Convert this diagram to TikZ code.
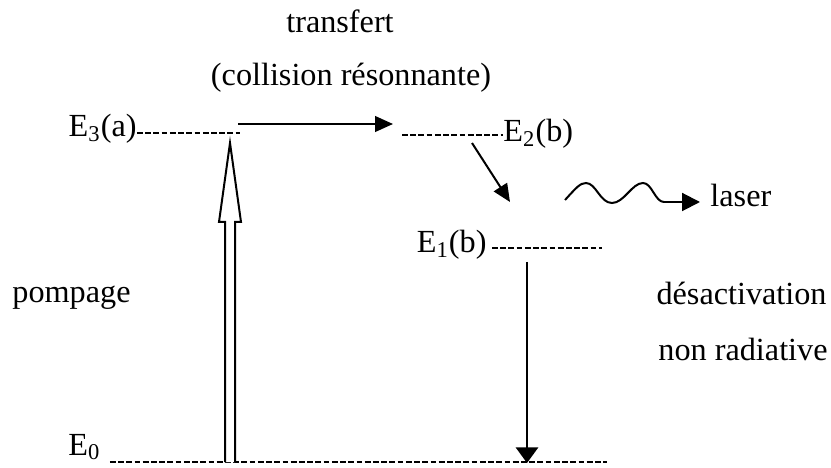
\documentclass[tikz,border=0pt]{standalone}
\usepackage{fontspec}
\setmainfont{Liberation Serif}
\usetikzlibrary{arrows.meta}
\begin{document}
\begin{tikzpicture}[x=0.45pt,y=-0.45pt,
  lbl/.style={inner sep=0pt,font=\fontsize{14.5}{17}\selectfont},
  level/.style={line width=1pt,dash pattern=on 2.6pt off 1.1pt},
  arr/.style={line width=0.9pt,-{Triangle[length=8pt,width=7pt]}},
  pump/.style={line width=0.9pt,fill=white,line join=miter}]
\useasboundingbox (0,0) rectangle (831,468);
% labels
\node[lbl,anchor=base] (tr) at (340,33) {transfert};
\node[lbl,anchor=base] (col) at (351,86) {(collision résonnante)};
\node[lbl,anchor=base east] (e3) at (137,137) {E\textsubscript{3}(a)};
\node[lbl,anchor=base west] (e2) at (503,142) {E\textsubscript{2}(b)};
\node[lbl,anchor=base west] (laser) at (710,207) {laser};
\node[lbl,anchor=base east] (e1) at (487,253) {E\textsubscript{1}(b)};
\node[lbl,anchor=base west] (pomp) at (12,303) {pompage};
\node[lbl,anchor=base east] (des) at (827,305) {désactivation};
\node[lbl,anchor=base east] (nr) at (828,360) {non radiative};
\node[lbl,anchor=base west] (e0) at (68,455) {E\textsubscript{0}};
% level lines
\coordinate (e3end) at (240,133);
\coordinate (e2start) at (402,135);
\coordinate (e1start) at (492,248);
\coordinate (e1end) at (602,248);
\coordinate (e0end) at (607,462);
\draw[level] (e3.east |- e3end) -- (e3end);
\draw[level] (e2start) -- (e2.west |- e2start);
\draw[level] (e1start) -- (e1end);
\draw[level] ([xshift=4pt]e0.east |- e0end) -- (e0end);
% transfer arrow
\coordinate (ta) at (238,124);
\coordinate (tb) at (393,124);
\draw[arr] (ta) -- (tb);
% diagonal arrow
\coordinate (da) at (472,143);
\coordinate (db) at (510,202);
\draw[arr] (da) -- (db);
% vertical decay arrow
\coordinate (va) at (527,262);
\coordinate (vb) at (527,463);
\draw[line width=0.9pt,-{Triangle[length=7pt,width=10pt]}] (va) -- (vb);
% pump arrow (open double arrow)
\draw[pump] (225,462) -- (225,222) -- (219,222) -- (230,143) -- (241,222) -- (235,222) -- (235,462);
% laser wave
\coordinate (wa) at (565,200);
\coordinate (wb) at (664,202);
\coordinate (wc) at (700,202);
\draw[line width=0.9pt] (wa) .. controls (576,188) and (580,183) .. (586,183)
  .. controls (596,183) and (600,203) .. (612,203)
  .. controls (624,203) and (632,183) .. (643,183)
  .. controls (652,183) and (655,202) .. (wb);
\draw[line width=0.9pt,-{Triangle[length=8pt,width=8pt]}] (wb) -- (wc);
\end{tikzpicture}
\end{document}
